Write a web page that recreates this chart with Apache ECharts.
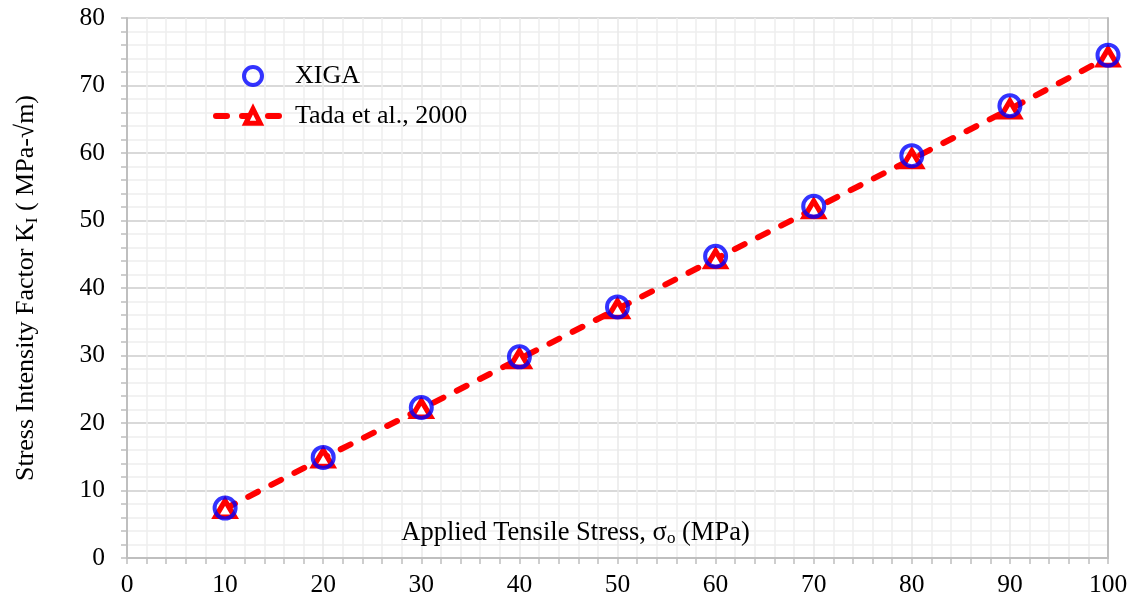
<!DOCTYPE html>
<html>
<head>
<meta charset="utf-8">
<script src="https://cdn.jsdelivr.net/npm/echarts@6/dist/echarts.min.js"></script>
<style>html,body{margin:0;padding:0;background:#fff}#c{width:1135px;height:604px}</style>
</head>
<body>
<div id="c"></div>
<script>
const stress = [10, 20, 30, 40, 50, 60, 70, 80, 90, 100];
const xiga = [7.4, 14.9, 22.3, 29.8, 37.2, 44.7, 52.1, 59.6, 67.0, 74.5];
const tada = [7.3, 14.8, 22.1, 29.5, 36.9, 44.3, 51.7, 59.1, 66.5, 74.2];
const xTicks = [0, 10, 20, 30, 40, 50, 60, 70, 80, 90, 100];
const yTicks = [0, 10, 20, 30, 40, 50, 60, 70, 80];

const FONT = '"Liberation Serif", "Times New Roman", serif';
const chart = echarts.init(document.getElementById('c'), null, {renderer: 'canvas'});
const pair = (xs, ys) => xs.map((x, i) => [x, ys[i]]);
const RED = '#ff0000', BLUE = '#0000ff';

chart.setOption({
  animation: false,
  backgroundColor: '#fff',
  textStyle: {fontFamily: FONT},
  grid: {left: 127, right: 27, top: 18, bottom: 46},
  legend: {
    orient: 'vertical',
    left: 208,
    top: 58,
    itemGap: 14,
    itemWidth: 74,
    itemHeight: 18,
    textStyle: {fontFamily: FONT, fontSize: 26, color: '#000'},
    data: [
      {name: 'XIGA', itemStyle: {color: 'rgba(255,255,255,0)', borderColor: BLUE, borderWidth: 4}},
      {name: 'Tada et al., 2000', lineStyle: {color: RED, width: 6, type: [11, 15], cap: 'round'},
       itemStyle: {color: '#fff', borderColor: RED, borderWidth: 5}}
    ]
  },
  xAxis: {
    type: 'value', min: xTicks[0], max: xTicks[xTicks.length - 1], interval: 10,
    name: 'Applied Tensile Stress, σ{sub|o} (MPa)',
    nameLocation: 'middle', nameGap: -25,
    nameTextStyle: {
      fontFamily: FONT, fontSize: 26.5, color: '#000', verticalAlign: 'middle', padding: [0, 84, 0, 0],
      rich: {sub: {fontFamily: FONT, fontSize: 17, verticalAlign: 'bottom', padding: [12, 0, 0, 0], color: '#000'}}
    },
    axisLine: {lineStyle: {color: '#bfbfbf', width: 2}},
    axisTick: {show: true, length: 6, lineStyle: {color: '#bfbfbf', width: 1.5}},
    minorTick: {show: true, splitNumber: 5, length: 6, lineStyle: {color: '#bfbfbf', width: 1.5}},
    axisLabel: {fontFamily: FONT, fontSize: 25.5, color: '#000', margin: 14},
    splitLine: {show: true, lineStyle: {color: '#e8e8e8', width: 1.5}},
    minorSplitLine: {show: true, lineStyle: {color: '#eeeeee', width: 1.5}}
  },
  yAxis: [{
    type: 'value', min: yTicks[0], max: yTicks[yTicks.length - 1], interval: 10,
    name: 'Stress Intensity Factor K{sub|I} ( MPa-√m)',
    nameLocation: 'middle', nameGap: 86,
    nameTextStyle: {
      fontFamily: FONT, fontSize: 26, color: '#000',
      rich: {sub: {fontFamily: FONT, fontSize: 17, verticalAlign: 'bottom', padding: [12, 0, 0, 0], color: '#000'}}
    },
    axisLine: {show: true, lineStyle: {color: '#bfbfbf', width: 2}},
    axisTick: {show: true, length: 6, lineStyle: {color: '#bfbfbf', width: 1.5}},
    minorTick: {show: true, splitNumber: 5, length: 6, lineStyle: {color: '#bfbfbf', width: 1.5}},
    axisLabel: {fontFamily: FONT, fontSize: 25.5, color: '#000', margin: 22},
    splitLine: {show: true, lineStyle: {color: '#d9d9d9', width: 2}},
    minorSplitLine: {show: true, lineStyle: {color: '#eeeeee', width: 1.5}}
  }, {
    type: 'value', min: yTicks[0], max: yTicks[yTicks.length - 1], interval: 10, position: 'right',
    axisLine: {show: true, lineStyle: {color: '#bfbfbf', width: 2}},
    axisTick: {show: false}, axisLabel: {show: false}, splitLine: {show: false}
  }],
  series: [{
    name: 'Tada et al., 2000',
    type: 'line',
    data: pair(stress, tada),
    symbol: 'triangle',
    symbolSize: [19, 16],
    itemStyle: {color: '#fff', borderColor: RED, borderWidth: 5},
    lineStyle: {color: RED, width: 6, type: [11, 15], cap: 'round'},
    z: 2
  }, {
    name: 'XIGA',
    type: 'scatter',
    data: pair(stress, xiga),
    symbol: 'circle',
    symbolSize: 21,
    itemStyle: {color: 'rgba(255,255,255,0)', borderColor: BLUE, borderWidth: 4},
    z: 3
  }]
});
</script>
</body>
</html>
